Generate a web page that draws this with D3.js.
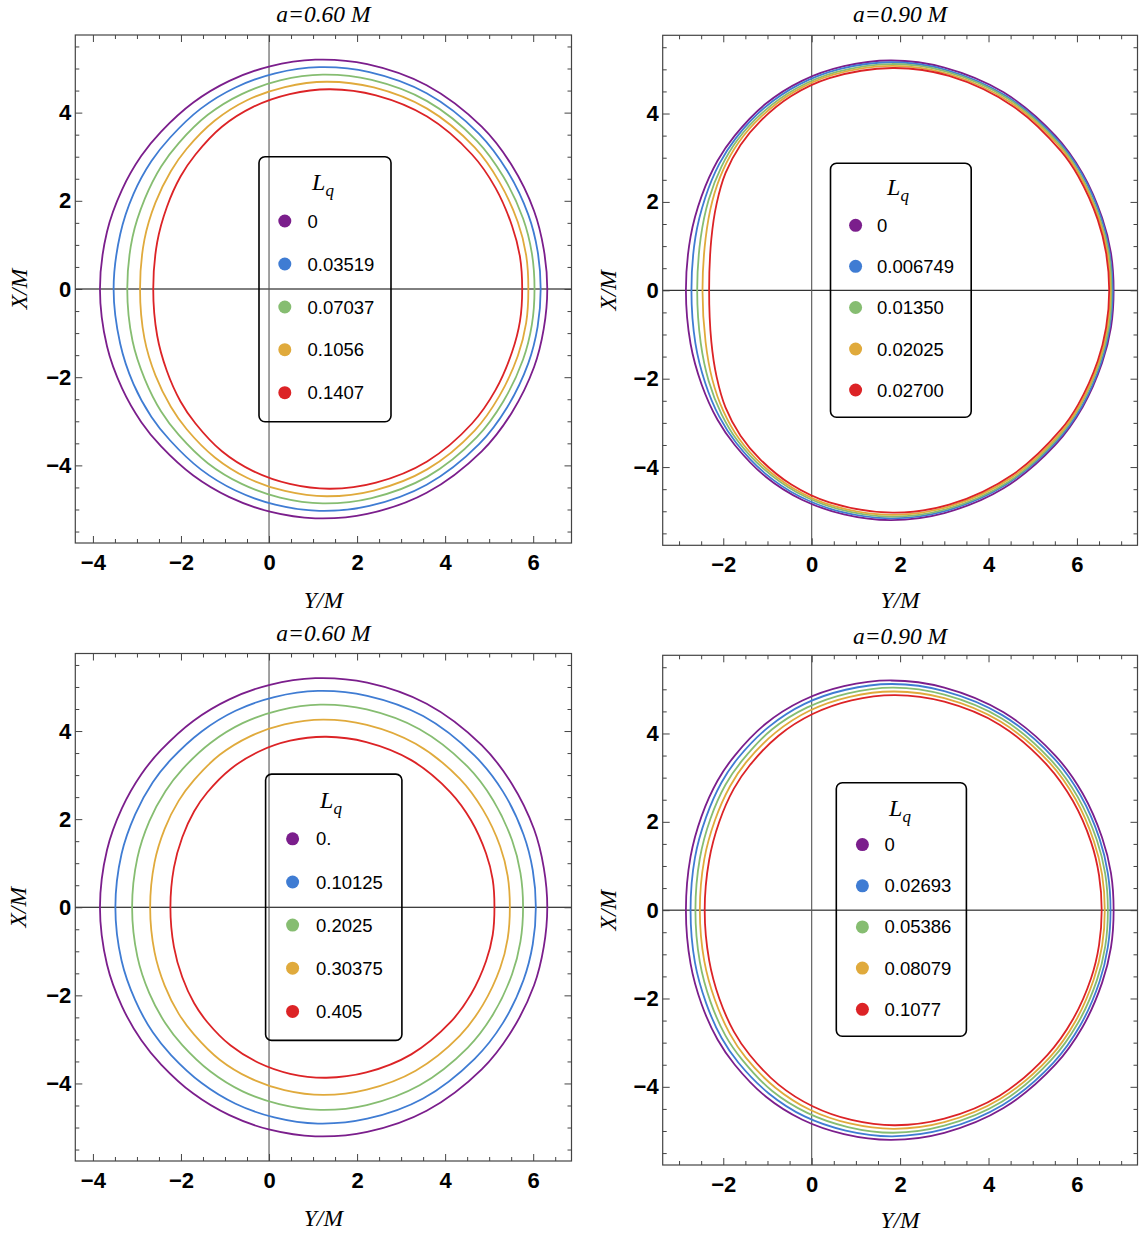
<!DOCTYPE html>
<html>
<head>
<meta charset="utf-8">
<script src="https://cdn.jsdelivr.net/npm/d3@7"></script>
<style>
  html, body { margin: 0; padding: 0; background: #ffffff; }
  svg { display: block; }
</style>
</head>
<body>
<svg id="chart" width="1140" height="1235"></svg>
<script>
// ---------------- DATA ----------------
// Upper halves (X/M >= 0) of each shadow contour, as [Y/M, X/M] pairs, left edge -> right edge.
// Every contour is symmetric about X/M = 0.

const panelTitles = ["a=0.60 M", "a=0.90 M", "a=0.60 M", "a=0.90 M"];

const legendLabelsA = ["0", "0.03519", "0.07037", "0.1056", "0.1407"];
const legendLabelsB = ["0", "0.006749", "0.01350", "0.02025", "0.02700"];
const legendLabelsC = ["0.", "0.10125", "0.2025", "0.30375", "0.405"];
const legendLabelsD = ["0", "0.02693", "0.05386", "0.08079", "0.1077"];

const xTicksMajorLeft = [-4, -2, 0, 2, 4, 6];
const xTicksMajorRight = [-2, 0, 2, 4, 6];
const xTicksMinorLeft = [-3.5, -3, -2.5, -1.5, -1, -0.5, 0.5, 1, 1.5, 2.5, 3, 3.5, 4.5, 5, 5.5, 6.5];
const xTicksMinorRight = [-3, -2.5, -1.5, -1, -0.5, 0.5, 1, 1.5, 2.5, 3, 3.5, 4.5, 5, 5.5, 6.5, 7];
const yTicksMajor = [-4, -2, 0, 2, 4];
const yTicksMinor = [-5.5, -5, -4.5, -3.5, -3, -2.5, -1.5, -1, -0.5, 0.5, 1, 1.5, 2.5, 3, 3.5, 4.5, 5, 5.5];

// a = 0.60 M, Lq = 0 (same in both a=0.60 panels)
const shadow060_Lq0 = [[-3.84,0],[-3.68,1.30],[-3.34,2.25],[-2.90,3.02],[-2.45,3.57],[-1.72,4.23],[-0.90,4.72],[0.02,5.05],[1.05,5.20],[2.23,5.10],[3.58,4.62],[4.83,3.68],[5.51,2.81],[6.02,1.77],[6.24,0.90],[6.32,0]];
// a = 0.90 M, Lq = 0 (same in both a=0.90 panels)
const shadow090_Lq0 = [[-2.845,0],[-2.74,1.21],[-2.49,2.13],[-2.13,2.93],[-1.74,3.50],[-1.04,4.22],[-0.22,4.74],[0.73,5.07],[1.80,5.20],[3.00,5.04],[4.34,4.48],[5.51,3.50],[6.13,2.64],[6.57,1.64],[6.77,0.84],[6.83,0]];

// Panel A: a = 0.60 M
const shadowA_1 = [[-3.53,0],[-3.38,1.24],[-3.08,2.15],[-2.67,2.90],[-2.25,3.43],[-1.55,4.09],[-0.76,4.57],[0.14,4.89],[1.14,5.03],[2.28,4.92],[3.58,4.44],[4.77,3.52],[5.41,2.68],[5.89,1.68],[6.10,0.86],[6.17,0]];
const shadowA_2 = [[-3.22,0],[-3.10,1.18],[-2.82,2.05],[-2.45,2.78],[-2.05,3.31],[-1.39,3.95],[-0.62,4.42],[0.25,4.73],[1.22,4.86],[2.33,4.74],[3.59,4.26],[4.72,3.36],[5.32,2.55],[5.77,1.60],[5.97,0.81],[6.03,0]];
const shadowA_3 = [[-2.93,0],[-2.83,1.12],[-2.58,1.96],[-2.23,2.67],[-1.87,3.18],[-1.23,3.82],[-0.50,4.28],[0.36,4.58],[1.31,4.70],[2.38,4.57],[3.59,4.09],[4.67,3.21],[5.23,2.43],[5.65,1.52],[5.84,0.77],[5.89,0]];
const shadowA_4 = [[-2.63,0],[-2.54,1.06],[-2.32,1.86],[-2.01,2.55],[-1.67,3.05],[-1.07,3.68],[-0.36,4.13],[0.47,4.42],[1.39,4.53],[2.43,4.39],[3.59,3.91],[4.61,3.05],[5.14,2.30],[5.52,1.43],[5.70,0.73],[5.75,0]];

// Panel B: a = 0.90 M
const shadowB_1 = [[-2.72,0],[-2.63,1.20],[-2.41,2.09],[-2.09,2.86],[-1.71,3.45],[-1.07,4.13],[-0.28,4.66],[0.65,5.01],[1.81,5.16],[3.03,4.99],[4.39,4.40],[5.54,3.42],[6.11,2.63],[6.55,1.63],[6.74,0.84],[6.81,0]];
const shadowB_2 = [[-2.59,0],[-2.51,1.19],[-2.33,2.05],[-2.04,2.80],[-1.68,3.40],[-1.10,4.03],[-0.34,4.57],[0.57,4.94],[1.81,5.12],[3.05,4.95],[4.45,4.33],[5.57,3.34],[6.08,2.61],[6.52,1.62],[6.72,0.84],[6.78,0]];
const shadowB_3 = [[-2.47,0],[-2.40,1.17],[-2.25,2.01],[-2.00,2.73],[-1.65,3.35],[-1.13,3.94],[-0.40,4.49],[0.49,4.88],[1.82,5.08],[3.08,4.90],[4.50,4.25],[5.60,3.26],[6.06,2.60],[6.50,1.61],[6.69,0.84],[6.76,0]];
const shadowB_4 = [[-2.32,0],[-2.27,1.16],[-2.15,1.96],[-1.95,2.65],[-1.61,3.29],[-1.16,3.83],[-0.47,4.39],[0.40,4.80],[1.83,5.03],[3.11,4.85],[4.56,4.16],[5.63,3.16],[6.03,2.58],[6.47,1.60],[6.66,0.84],[6.73,0]];

// Panel C: a = 0.60 M
const shadowC_1 = [[-3.49,0],[-3.35,1.21],[-3.04,2.11],[-2.64,2.84],[-2.22,3.36],[-1.53,3.99],[-0.76,4.46],[0.12,4.77],[1.11,4.91],[2.23,4.80],[3.50,4.34],[4.67,3.44],[5.31,2.63],[5.78,1.65],[5.99,0.84],[6.06,0]];
const shadowC_2 = [[-3.11,0],[-2.99,1.12],[-2.72,1.95],[-2.35,2.64],[-1.97,3.13],[-1.33,3.73],[-0.60,4.18],[0.23,4.47],[1.16,4.60],[2.22,4.49],[3.42,4.04],[4.51,3.19],[5.09,2.43],[5.52,1.52],[5.71,0.78],[5.77,0]];
const shadowC_3 = [[-2.70,0],[-2.60,1.02],[-2.37,1.78],[-2.05,2.42],[-1.70,2.89],[-1.12,3.46],[-0.43,3.88],[0.35,4.15],[1.23,4.26],[2.22,4.14],[3.33,3.71],[4.33,2.92],[4.86,2.21],[5.25,1.38],[5.42,0.71],[5.47,0]];
const shadowC_4 = [[-2.24,0],[-2.16,0.90],[-1.97,1.59],[-1.70,2.18],[-1.40,2.61],[-0.87,3.14],[-0.24,3.53],[0.48,3.78],[1.30,3.87],[2.21,3.75],[3.23,3.34],[4.12,2.61],[4.59,1.97],[4.93,1.22],[5.08,0.63],[5.12,0]];

// Panel D: a = 0.90 M
const shadowD_1 = [[-2.74,0],[-2.64,1.19],[-2.39,2.10],[-2.04,2.89],[-1.66,3.45],[-0.97,4.15],[-0.16,4.67],[0.77,4.99],[1.82,5.12],[3.00,4.96],[4.32,4.41],[5.47,3.45],[6.08,2.60],[6.51,1.62],[6.70,0.83],[6.76,0]];
const shadowD_2 = [[-2.63,0],[-2.53,1.17],[-2.29,2.07],[-1.95,2.84],[-1.57,3.39],[-0.90,4.09],[-0.10,4.59],[0.82,4.91],[1.85,5.04],[3.00,4.88],[4.30,4.34],[5.42,3.39],[6.02,2.56],[6.45,1.59],[6.64,0.82],[6.70,0]];
const shadowD_3 = [[-2.53,0],[-2.43,1.15],[-2.19,2.03],[-1.85,2.80],[-1.49,3.34],[-0.82,4.02],[-0.04,4.52],[0.86,4.83],[1.87,4.95],[3.00,4.80],[4.27,4.27],[5.38,3.34],[5.97,2.51],[6.38,1.57],[6.57,0.80],[6.63,0]];
const shadowD_4 = [[-2.42,0],[-2.32,1.13],[-2.09,2.00],[-1.76,2.75],[-1.40,3.28],[-0.75,3.95],[0.02,4.44],[0.90,4.75],[1.89,4.87],[3.00,4.72],[4.25,4.20],[5.33,3.28],[5.91,2.47],[6.32,1.54],[6.50,0.79],[6.56,0]];

const seriesColors = ["#7b1e8c", "#3f7cd3", "#86bd71", "#e0aa3c", "#dc2326"];

// ---------------- LAYOUT ----------------
const panels = [
  { curves: [shadow060_Lq0, shadowA_1, shadowA_2, shadowA_3, shadowA_4], labels: legendLabelsA,
    xMajor: xTicksMajorLeft, xMinor: xTicksMinorLeft,
    xd: [-4.40, 6.87], yd: [-5.76, 5.76], xr: [75.3, 571.5], yr: [543, 35],
    titleY: 22, xlabY: 608, ylabX: 19.5,
    leg: { x0: 259, x1: 391, y0: 156.7, y1: 421.7, ltx: 323, lty: 190, dotx: 284.8, textx: 307.5, rows: [221, 264, 307, 349.7, 392.7] } },
  { curves: [shadow090_Lq0, shadowB_1, shadowB_2, shadowB_3, shadowB_4], labels: legendLabelsB,
    xMajor: xTicksMajorRight, xMinor: xTicksMinorRight,
    xd: [-3.37, 7.37], yd: [-5.77, 5.77], xr: [662.7, 1137.5], yr: [545.3, 35.3],
    titleY: 22, xlabY: 608, ylabX: 609,
    leg: { x0: 830.5, x1: 971.2, y0: 163.3, y1: 417.3, ltx: 898, lty: 195, dotx: 855.6, textx: 877, rows: [225.3, 266.3, 307.5, 349, 390] } },
  { curves: [shadow060_Lq0, shadowC_1, shadowC_2, shadowC_3, shadowC_4], labels: legendLabelsC,
    xMajor: xTicksMajorLeft, xMinor: xTicksMinorLeft,
    xd: [-4.40, 6.87], yd: [-5.76, 5.76], xr: [75.3, 571.5], yr: [1161, 653.5],
    titleY: 641, xlabY: 1226, ylabX: 18.5,
    leg: { x0: 265.6, x1: 401.9, y0: 774.1, y1: 1040.4, ltx: 331, lty: 808, dotx: 292.6, textx: 316, rows: [838.8, 882, 925.1, 968.2, 1011.4] } },
  { curves: [shadow090_Lq0, shadowD_1, shadowD_2, shadowD_3, shadowD_4], labels: legendLabelsD,
    xMajor: xTicksMajorRight, xMinor: xTicksMinorRight,
    xd: [-3.37, 7.37], yd: [-5.77, 5.77], xr: [662.7, 1137.5], yr: [1165, 655.3],
    titleY: 644, xlabY: 1228, ylabX: 609,
    leg: { x0: 836.3, x1: 966.4, y0: 782.7, y1: 1036.3, ltx: 900, lty: 816, dotx: 862.4, textx: 884.5, rows: [844.6, 885.8, 926.9, 968.1, 1009.3] } }
];

const svg = d3.select("#chart");
svg.append("rect").attr("width", 1140).attr("height", 1235).attr("fill", "#fff");

const SANS = "'Liberation Sans', Arial, Helvetica, sans-serif";
const SERIF = "'Liberation Serif', 'Times New Roman', Times, serif";
const TICK_COLOR = "#444";
const fmt = d3.format("d");

function closeContour(upper) {
  const lower = upper.slice(1, -1).reverse().map(([a, b]) => [a, -b]);
  return upper.concat(lower);
}

function styleAxis(sel, withText) {
  sel.select(".domain").remove();
  sel.selectAll(".tick line").attr("stroke", TICK_COLOR).attr("stroke-width", 1);
  if (withText) {
    sel.attr("font-family", SANS).attr("font-size", 22).attr("font-weight", "bold");
    sel.selectAll(".tick text").attr("fill", "#000");
  } else {
    sel.selectAll(".tick text").remove();
  }
}

panels.forEach((p, i) => {
  const x = d3.scaleLinear().domain(p.xd).range(p.xr);
  const y = d3.scaleLinear().domain(p.yd).range(p.yr);
  const g = svg.append("g");
  const left = p.xr[0], right = p.xr[1], top = p.yr[1], bottom = p.yr[0];

  // zero axes
  g.append("line").attr("x1", left).attr("x2", right).attr("y1", y(0)).attr("y2", y(0))
    .attr("stroke", "#000").attr("stroke-width", 1);
  g.append("line").attr("x1", x(0)).attr("x2", x(0)).attr("y1", top).attr("y2", bottom)
    .attr("stroke", "#555").attr("stroke-width", 1.1);

  // contours
  const line = d3.line().x(d => x(d[0])).y(d => y(d[1])).curve(d3.curveCatmullRomClosed.alpha(0.5));
  p.curves.forEach((c, k) => {
    g.append("path").attr("d", line(closeContour(c)))
      .attr("fill", "none").attr("stroke", seriesColors[k]).attr("stroke-width", 1.8)
      .attr("stroke-linejoin", "round");
  });

  // frame
  g.append("rect").attr("x", left).attr("y", top).attr("width", right - left).attr("height", bottom - top)
    .attr("fill", "none").attr("stroke", "#444").attr("stroke-width", 1.2);

  // ticks (inward), labels on bottom and left
  g.append("g").attr("transform", `translate(0,${bottom})`)
    .call(d3.axisBottom(x).tickValues(p.xMajor).tickSize(-7).tickPadding(11.4).tickFormat(fmt))
    .call(s => styleAxis(s, true));
  g.append("g").attr("transform", `translate(0,${bottom})`)
    .call(d3.axisBottom(x).tickValues(p.xMinor).tickSize(-4).tickFormat(""))
    .call(s => styleAxis(s, false));
  g.append("g").attr("transform", `translate(0,${top})`)
    .call(d3.axisTop(x).tickValues(p.xMajor).tickSize(-7).tickFormat(""))
    .call(s => styleAxis(s, false));
  g.append("g").attr("transform", `translate(0,${top})`)
    .call(d3.axisTop(x).tickValues(p.xMinor).tickSize(-4).tickFormat(""))
    .call(s => styleAxis(s, false));
  g.append("g").attr("transform", `translate(${left},0)`)
    .call(d3.axisLeft(y).tickValues(yTicksMajor).tickSize(-7).tickPadding(4).tickFormat(fmt))
    .call(s => styleAxis(s, true));
  g.append("g").attr("transform", `translate(${left},0)`)
    .call(d3.axisLeft(y).tickValues(yTicksMinor).tickSize(-4).tickFormat(""))
    .call(s => styleAxis(s, false));
  g.append("g").attr("transform", `translate(${right},0)`)
    .call(d3.axisRight(y).tickValues(yTicksMajor).tickSize(-7).tickFormat(""))
    .call(s => styleAxis(s, false));
  g.append("g").attr("transform", `translate(${right},0)`)
    .call(d3.axisRight(y).tickValues(yTicksMinor).tickSize(-4).tickFormat(""))
    .call(s => styleAxis(s, false));

  // titles
  const cx = (left + right) / 2, cy = (top + bottom) / 2;
  g.append("text").attr("x", cx).attr("y", p.titleY).attr("text-anchor", "middle")
    .attr("font-family", SERIF).attr("font-style", "italic").attr("font-size", 23.5)
    .text(panelTitles[i]);
  g.append("text").attr("x", cx).attr("y", p.xlabY).attr("text-anchor", "middle")
    .attr("font-family", SERIF).attr("font-style", "italic").attr("font-size", 23.5)
    .text("Y/M");
  g.append("text").attr("transform", `translate(${p.ylabX + 7},${cy}) rotate(-90)`).attr("text-anchor", "middle")
    .attr("font-family", SERIF).attr("font-style", "italic").attr("font-size", 23.5)
    .text("X/M");

  // legend
  const L = p.leg;
  g.append("rect").attr("x", L.x0).attr("y", L.y0).attr("width", L.x1 - L.x0).attr("height", L.y1 - L.y0)
    .attr("rx", 6).attr("ry", 6).attr("fill", "none").attr("stroke", "#000").attr("stroke-width", 1.6);
  const lt = g.append("text").attr("x", L.ltx).attr("y", L.lty).attr("text-anchor", "middle")
    .attr("font-family", SERIF).attr("font-style", "italic").attr("font-size", 24);
  lt.append("tspan").text("L");
  lt.append("tspan").attr("dy", 6).attr("font-size", 17).text("q");
  p.labels.forEach((lab, k) => {
    g.append("circle").attr("cx", L.dotx).attr("cy", L.rows[k]).attr("r", 6.5).attr("fill", seriesColors[k]);
    g.append("text").attr("x", L.textx).attr("y", L.rows[k] + 6.5)
      .attr("font-family", SANS).attr("font-size", 18.5).attr("fill", "#000").text(lab);
  });
});
</script>
</body>
</html>
